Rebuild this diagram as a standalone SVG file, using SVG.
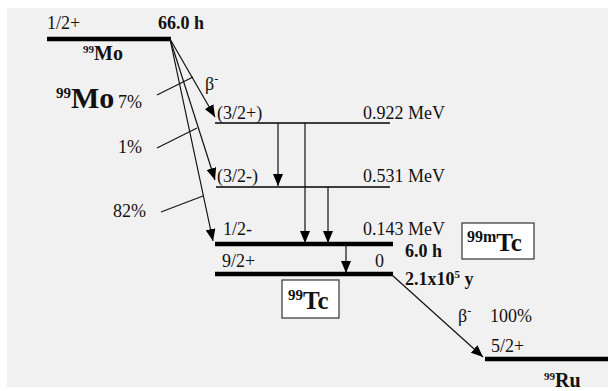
<svg xmlns="http://www.w3.org/2000/svg" width="608" height="391" viewBox="0 0 608 391">
<defs>
<marker id="ah" markerWidth="12" markerHeight="10" refX="12" refY="5" orient="auto" markerUnits="userSpaceOnUse">
<path d="M0,0 L12,5 L0,10 Z" fill="#000"/>
</marker>
<style>
text{font-family:"Liberation Serif","Times New Roman",serif;fill:#111}
.t{font-size:18px}
.b{font-weight:bold;font-size:18px}
.lv{stroke:#000;stroke-width:1.6}
.lk{stroke:#000;stroke-width:4.5}
.c{stroke:#111;stroke-width:1.2;fill:none}
.box{fill:#fff;stroke:#333;stroke-width:1.2}
</style>
</defs>
<rect width="608" height="391" fill="#fff"/>
<rect x="7" y="8" width="601" height="379" fill="#f1f1f1"/>

<g id="mo99">
<line class="lk" x1="47" y1="39" x2="171" y2="39"/>
<text class="t" x="47" y="29">1/2+</text>
<text class="b" x="158" y="29">66.0 h</text>
<text class="b" x="83" y="60"><tspan font-size="11" dy="-7">99</tspan><tspan dy="7" font-size="20">Mo</tspan></text>
</g>

<g id="mo99-big">
<text font-weight="bold" x="56" y="108"><tspan font-size="15" dy="-10">99</tspan><tspan dy="10" font-size="30">Mo</tspan></text>
</g>

<g id="lvl-922">
<line class="lv" x1="215" y1="123" x2="390" y2="123"/>
<text class="t" x="217" y="119">(3/2+)</text>
<text class="t" x="363" y="119">0.922 MeV</text>
</g>

<g id="lvl-531">
<line class="lv" x1="216" y1="187" x2="390" y2="187"/>
<text class="t" x="217" y="182">(3/2-)</text>
<text class="t" x="363" y="182">0.531 MeV</text>
</g>

<g id="lvl-143">
<line class="lk" x1="215" y1="244" x2="393" y2="244"/>
<text class="t" x="223" y="235">1/2-</text>
<text class="t" x="363" y="235">0.143 MeV</text>
<text class="b" x="405" y="257" font-size="17">6.0 h</text>
</g>

<g id="lvl-0">
<line class="lk" x1="215" y1="274" x2="393" y2="274"/>
<text class="t" x="222" y="267">9/2+</text>
<text class="t" x="375" y="267">0</text>
<text class="b" x="405" y="285" font-size="17">2.1x10<tspan font-size="11" dy="-7">5</tspan><tspan dy="7"> y</tspan></text>
</g>

<g id="tc99m-box">
<rect class="box" x="462" y="223" width="72" height="36"/>
<text font-weight="bold" x="467" y="251"><tspan font-size="16" dy="-9">99m</tspan><tspan font-size="25" dy="9">Tc</tspan></text>
</g>

<g id="tc99-box">
<rect class="box" x="282" y="280" width="57" height="38"/>
<text font-weight="bold" x="288" y="309"><tspan font-size="15" dy="-9">99</tspan><tspan font-size="25" dy="9">Tc</tspan></text>
</g>

<g id="ru99">
<line class="lk" x1="485" y1="359" x2="608" y2="359"/>
<text class="t" x="491" y="352">5/2+</text>
<text class="b" x="544" y="387"><tspan font-size="11" dy="-7">99</tspan><tspan dy="7" font-size="20">Ru</tspan></text>
</g>

<g id="labels">
<text class="t" x="205" y="90">β<tspan font-size="12" dy="-7">-</tspan></text>
<text class="t" x="118" y="108">7%</text>
<text class="t" x="118" y="153">1%</text>
<text class="t" x="113" y="217">82%</text>
<text class="t" x="458" y="322">β<tspan font-size="12" dy="-7">-</tspan></text>
<text class="t" x="490" y="322">100%</text>
</g>

<g id="connectors">
<line class="c" x1="170" y1="39" x2="215" y2="117" marker-end="url(#ah)"/>
<line class="c" x1="170" y1="39" x2="215" y2="180" marker-end="url(#ah)"/>
<line class="c" x1="170" y1="39" x2="213" y2="241" marker-end="url(#ah)"/>
<line class="c" x1="157" y1="95" x2="193" y2="77"/>
<line class="c" x1="157" y1="148" x2="197" y2="128"/>
<line class="c" x1="161" y1="212" x2="203" y2="196"/>
<line class="c" x1="278" y1="123" x2="278" y2="186" marker-end="url(#ah)"/>
<line class="c" x1="305" y1="123" x2="305" y2="243" marker-end="url(#ah)"/>
<line class="c" x1="328" y1="187" x2="328" y2="243" marker-end="url(#ah)"/>
<line class="c" x1="346" y1="244" x2="346" y2="273" marker-end="url(#ah)"/>
<line class="c" x1="392" y1="275" x2="483" y2="357" marker-end="url(#ah)"/>
</g>
</svg>
